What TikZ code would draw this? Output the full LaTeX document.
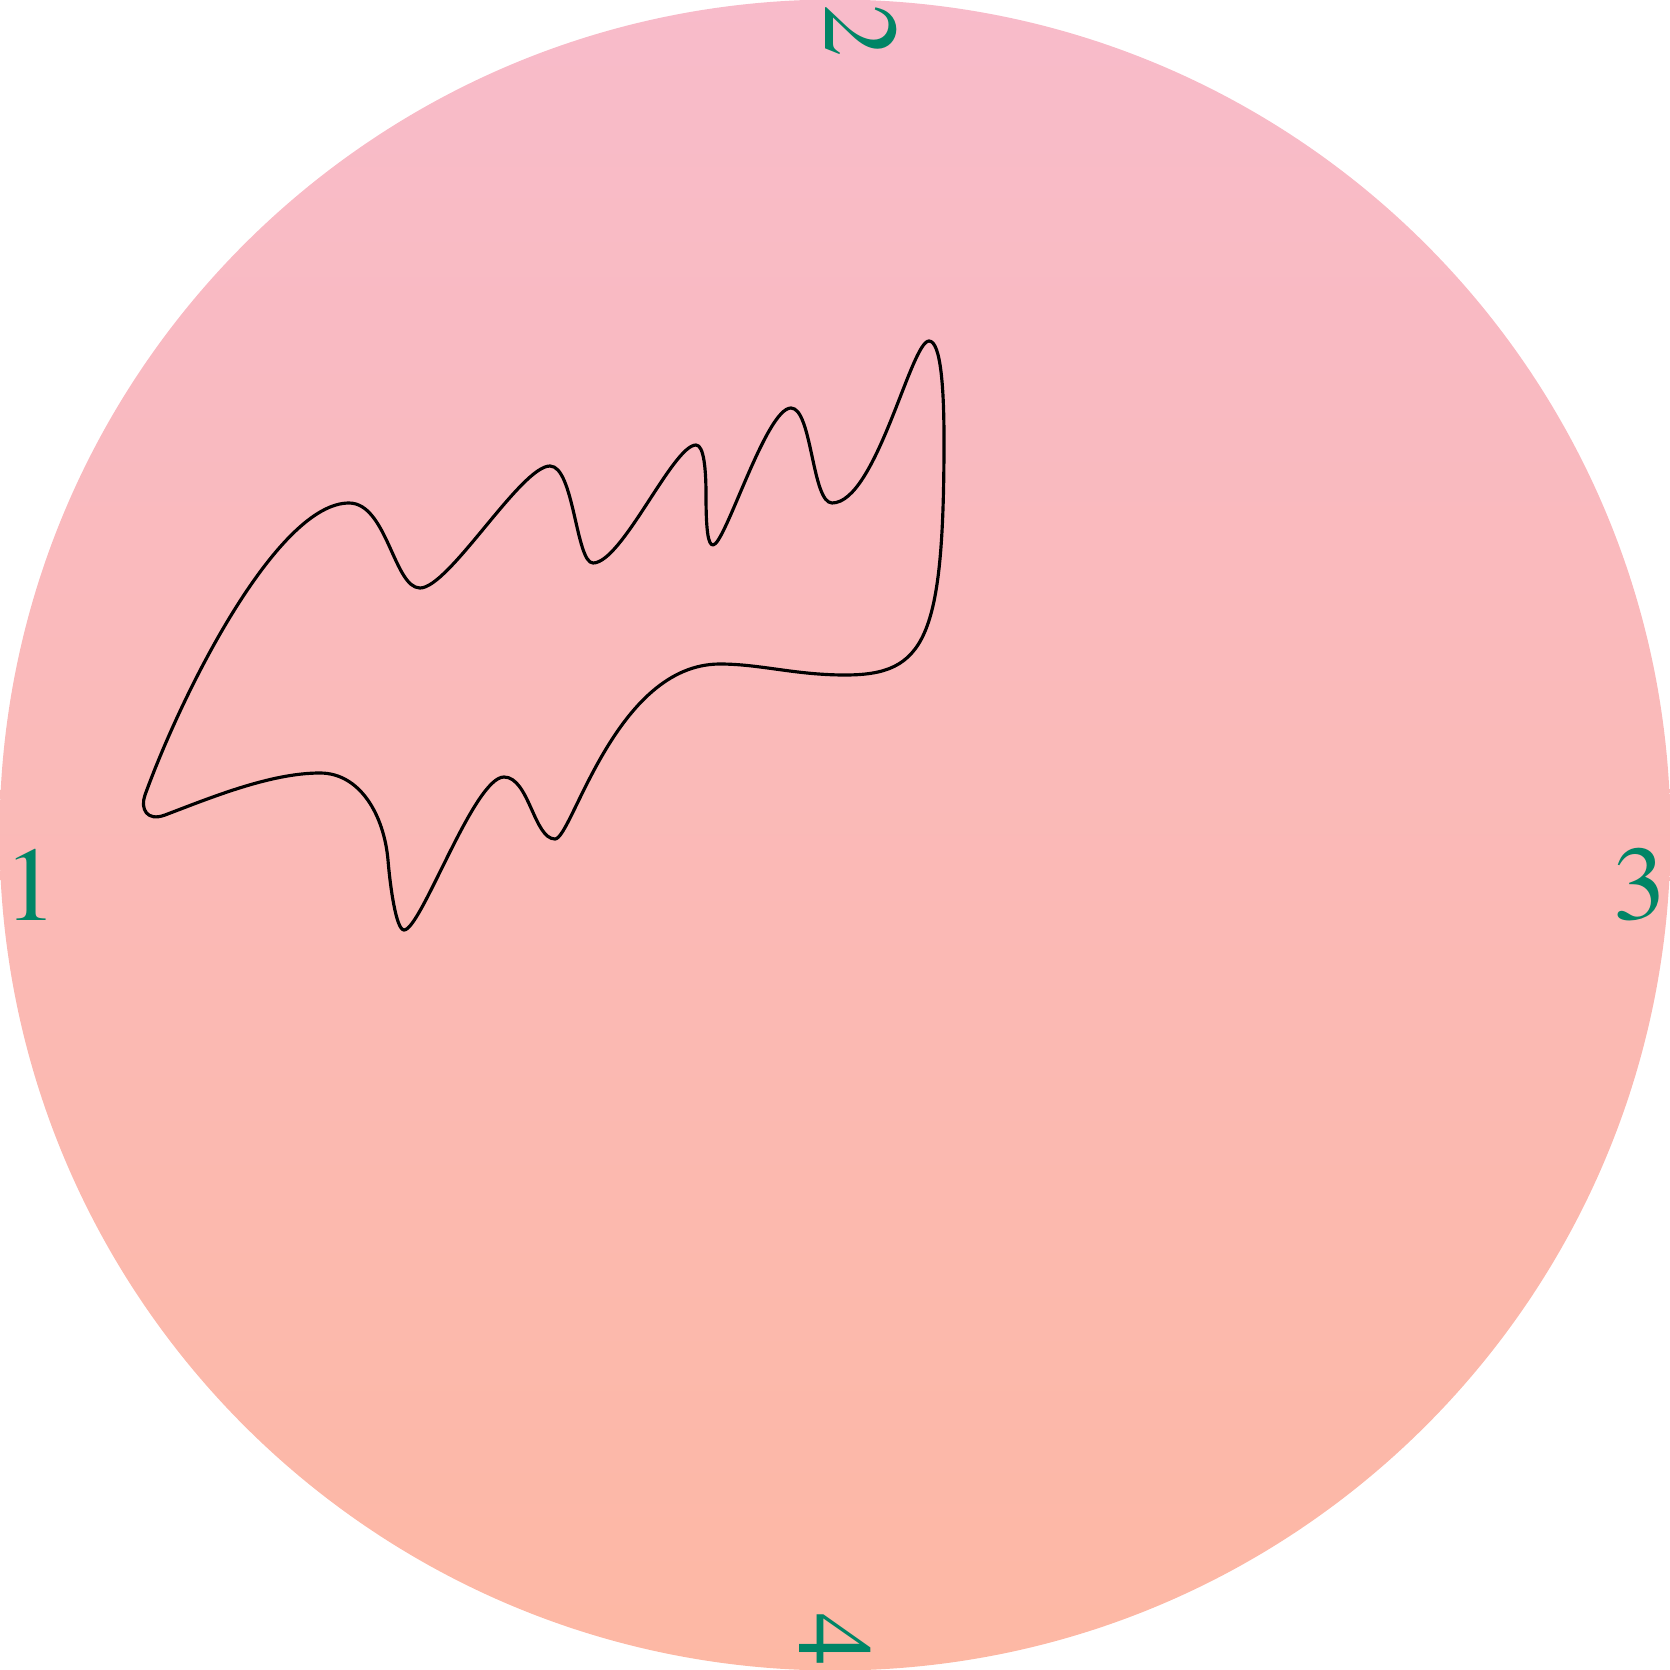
\documentclass[tikz,border=0pt]{standalone}
\usepackage{fontspec}
\setmainfont{TeX Gyre Termes}
\definecolor{toppink}{RGB}{248,187,202}
\definecolor{botpeach}{RGB}{253,184,164}
\definecolor{labgreen}{RGB}{0,133,102}
\begin{document}
\begin{tikzpicture}[x=0.01cm,y=-0.01cm,
  lab/.style={text=labgreen,inner sep=0pt,font=\fontsize{30}{36}\selectfont},
  blob/.style={draw=black,line width=0.9pt,line join=round}]
\useasboundingbox (0,0) rectangle (1670,1670);
\shade[top color=toppink,bottom color=botpeach,shading angle=0] (835,835) circle[radius=8.35cm];
\node[lab] (n1) at (31,885) {1};
\node[lab,rotate=-90] (n2) at (861,31) {2};
\node[lab] (n3) at (1640,885) {3};
\node[lab,rotate=-90] (n4) at (835,1640) {4};
\draw[blob] (929,341)
  .. controls +(12,0) and +(0,-50) .. (944,440)
  .. controls +(0,200) and +(80,0) .. (845,675)
  .. controls +(-50,0) and +(40,0) .. (720,664)
  .. controls +(-105,0) and +(17,0) .. (555,839)
  .. controls +(-21,0) and +(25,0) .. (504,777)
  .. controls +(-30,0) and +(17,0) .. (404,930)
  .. controls +(-8,0) and +(2,25) .. (388,860)
  .. controls +(-4,-45) and +(40,0) .. (320,773)
  .. controls +(-50,0) and +(45,-17) .. (165,815)
  .. controls +(-18,6.8) and +(-5,14) .. (145,795)
  .. controls +(40,-110) and +(-70,0) .. (349,503)
  .. controls +(38,0) and +(-26,0) .. (420,588)
  .. controls +(29,0) and +(-29,0) .. (550,466)
  .. controls +(24,0) and +(-17,0) .. (593,563)
  .. controls +(29,0) and +(-23,0) .. (696,445)
  .. controls +(8,0) and +(0,-25) .. (706,495)
  .. controls +(0,35) and +(-5,0) .. (713,545)
  .. controls +(12,0) and +(-25,0) .. (791,408)
  .. controls +(21,0) and +(-20,0) .. (832,503)
  .. controls +(44,0) and +(-18,0) .. (929,341) -- cycle;
\end{tikzpicture}
\end{document}
